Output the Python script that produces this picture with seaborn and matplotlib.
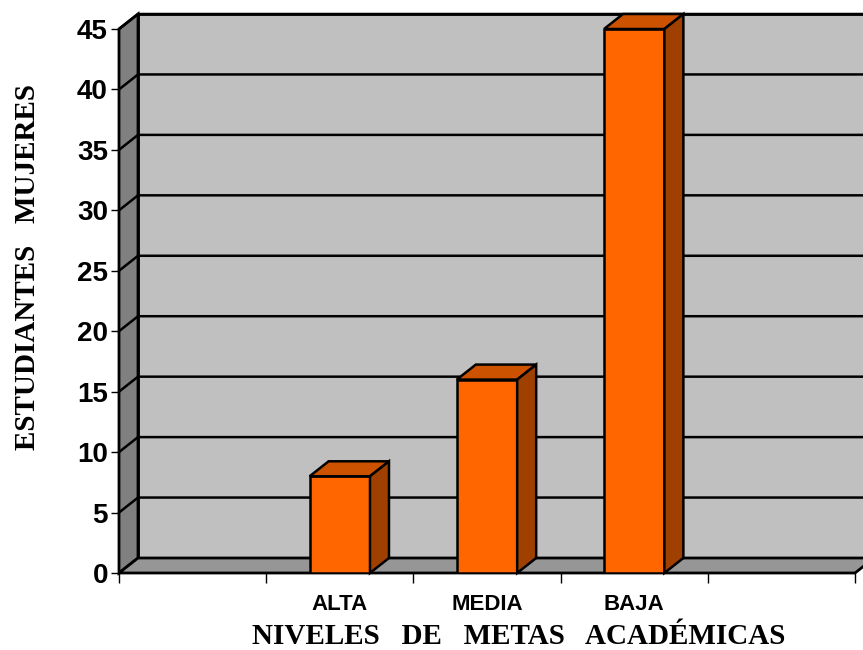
import numpy as np
import pandas as pd
import matplotlib
matplotlib.use("Agg")
import matplotlib.pyplot as plt
from matplotlib.patches import Polygon
import seaborn as sns

# Datos del gráfico
niveles = ["ALTA", "MEDIA", "BAJA"]
estudiantes = [8, 16, 45]
orden = [" ", "ALTA", "MEDIA", "BAJA", "  "]   # 5 casillas, la primera y la última vacías
y_ticks = list(range(0, 50, 5))

df = pd.DataFrame({"nivel": niveles, "n": estudiantes})

sns.set_style("white")
plt.rcParams["font.family"] = ["Liberation Sans", "DejaVu Sans"]
plt.rcParams["text.color"] = "black"
plt.rcParams["xtick.color"] = "black"
plt.rcParams["ytick.color"] = "black"

fig = plt.figure(figsize=(8.63, 6.5), dpi=100)
W, H = 863, 650
ax = fig.add_axes([119 / W, (H - 573) / H, (855 - 119) / W, (573 - 29) / H])

sns.barplot(data=df, x="nivel", y="n", order=orden, color="#FF6600",
            saturation=1, width=0.41, edgecolor="black", linewidth=1.8, ax=ax)

x0, x1 = -0.5, len(orden) - 0.5
ymax = 45
ax.set_xlim(x0, x1)
ax.set_ylim(0, ymax)

# profundidad del efecto 3D en unidades de datos
dx = 19 / 147.2
dy = 15 * ymax / 544.0

# paredes
back = Polygon([(x0 + dx, dy), (x1 + dx, dy), (x1 + dx, ymax + dy), (x0 + dx, ymax + dy)],
               closed=True, facecolor="#C0C0C0", edgecolor="black", lw=2, clip_on=False, zorder=0.5)
side = Polygon([(x0, 0), (x0 + dx, dy), (x0 + dx, ymax + dy), (x0, ymax)],
               closed=True, facecolor="#808080", edgecolor="black", lw=2, clip_on=False, zorder=0.6)
floor = Polygon([(x0, 0), (x1, 0), (x1 + dx, dy), (x0 + dx, dy)],
                closed=True, facecolor="#969696", edgecolor="black", lw=2, clip_on=False, zorder=0.6)
for p in (back, side, floor):
    ax.add_patch(p)

# líneas de cuadrícula en la pared del fondo
for v in y_ticks[1:]:
    ax.plot([x0, x0 + dx, x1 + dx], [v, v + dy, v + dy], color="black", lw=1.8,
            clip_on=False, zorder=0.8, solid_joinstyle="miter")

# caras superior y lateral de las barras
bars = [b for b in ax.patches if b not in (back, side, floor)]
for b in bars:
    b.set_zorder(3)
    h = b.get_height()
    if h <= 0:
        continue
    xl = b.get_x()
    xr = xl + b.get_width()
    top = Polygon([(xl, h), (xr, h), (xr + dx, h + dy), (xl + dx, h + dy)],
                  closed=True, facecolor="#CC5200", edgecolor="black", lw=1.8, clip_on=False, zorder=3)
    lado = Polygon([(xr, 0), (xr + dx, dy), (xr + dx, h + dy), (xr, h)],
                   closed=True, facecolor="#A04000", edgecolor="black", lw=1.8, clip_on=False, zorder=3)
    ax.add_patch(top)
    ax.add_patch(lado)

for s in ax.spines.values():
    s.set_visible(False)

# ejes
ax.set_yticks(y_ticks)
ax.set_yticklabels([str(v) for v in y_ticks], fontsize=20, fontweight="bold")
ax.tick_params(axis="y", length=6, width=1, color="black", pad=2, left=True)

ax.set_xticks(np.arange(x0, x1 + 0.01, 1.0))
ax.set_xticklabels([])
ax.tick_params(axis="x", which="major", length=7, width=1, color="black", bottom=True)
ax.set_xticks(np.arange(len(orden)), minor=True)
ax.set_xticklabels([o.strip() for o in orden], minor=True, fontsize=16, fontweight="bold")
ax.tick_params(axis="x", which="minor", length=0, pad=15)

ax.set_xlabel("")
ax.set_ylabel("")

fig.text(28 / W, 1 - 267 / H, "ESTUDIANTES   MUJERES", rotation=90, ha="center", va="center",
         fontsize=21, fontweight="bold", family=["Liberation Serif", "DejaVu Serif"])
fig.text(519 / W, 1 - 636 / H, "NIVELES   DE   METAS   ACADÉMICAS", ha="center", va="center",
         fontsize=21, fontweight="bold", family=["Liberation Serif", "DejaVu Serif"])

fig.savefig("out.png", dpi=100, facecolor="white")
